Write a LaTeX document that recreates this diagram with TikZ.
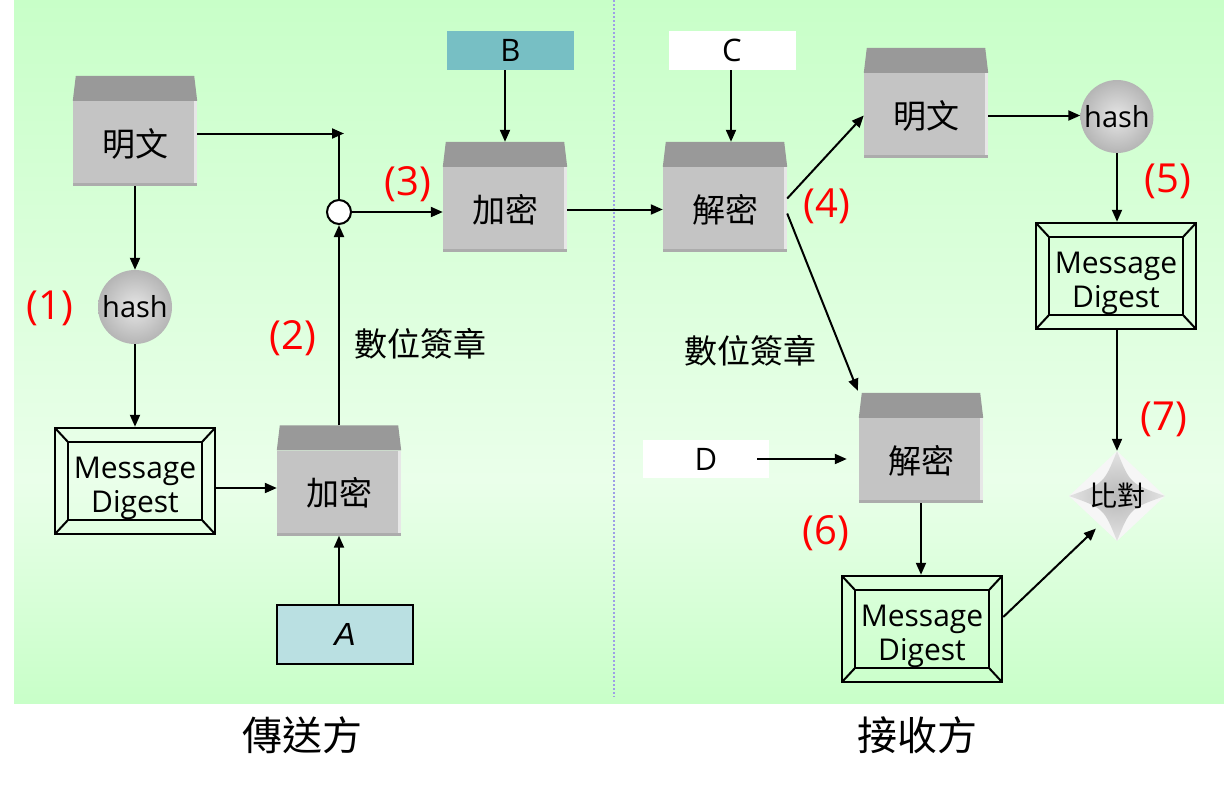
\documentclass[tikz,border=0pt]{standalone}
\usepackage{fontspec}
\setmainfont{Open Sans}
\newfontfamily\cjk{Noto Sans CJK TC}
\newfontfamily\libsans{Liberation Sans}
\usetikzlibrary{arrows.meta,shapes.geometric,calc}
\definecolor{bgA}{HTML}{C8FFC8}
\definecolor{bgB}{HTML}{EAFFEA}
\definecolor{boxfront}{HTML}{C4C4C4}
\definecolor{boxtop}{HTML}{999999}
\definecolor{keyB}{HTML}{77BFC4}
\definecolor{keyA}{HTML}{BAE0E2}
\definecolor{dotc}{HTML}{9E9EE6}
\newcommand\boxtopof[1]{\fill[boxtop] (#1.north west) -- ([xshift=3pt,yshift=25pt]#1.north west) -- ([xshift=-3pt,yshift=25pt]#1.north east) -- (#1.north east) -- cycle;}
\newcommand\mdtext{\raisebox{-13.5pt}[0pt][0pt]{\begin{tabular}{@{}c@{}}Message\\Digest\end{tabular}}}
\begin{document}
\begin{tikzpicture}[x=1pt,y=-1pt,
  arr/.style={line width=2pt,-{Triangle[length=12pt,width=10pt]}},
  ln/.style={line width=2pt},
  gbox/.style={minimum width=124pt,minimum height=85pt,inner sep=0pt,fill=boxfront,
    font=\cjk\fontsize{33}{36}\selectfont,
    path picture={
      \fill[boxfront!40!white] ([xshift=-3pt]path picture bounding box.north east) rectangle (path picture bounding box.south east);
      \fill[boxfront!88!black] (path picture bounding box.south west) rectangle ([yshift=3pt]path picture bounding box.south east);}},
  mdbox/.style={draw,line width=2.5pt,minimum width=160pt,minimum height=106pt,inner sep=0pt,
    font=\fontsize{30}{34}\selectfont,
    path picture={
      \coordinate (Q1) at ([xshift=13pt,yshift=-14pt]path picture bounding box.north west);
      \coordinate (Q2) at ([xshift=-13pt,yshift=-14pt]path picture bounding box.north east);
      \coordinate (Q3) at ([xshift=-13pt,yshift=14pt]path picture bounding box.south east);
      \coordinate (Q4) at ([xshift=13pt,yshift=14pt]path picture bounding box.south west);
      \draw[line width=2.5pt] (Q1) -- (Q2) -- (Q3) -- (Q4) -- cycle;
      \draw[line width=2pt] (Q1) -- (path picture bounding box.north west)
        (Q2) -- (path picture bounding box.north east)
        (Q3) -- (path picture bounding box.south east)
        (Q4) -- (path picture bounding box.south west);}},
  hashball/.style={circle,minimum size=74pt,inner sep=0pt,shading=radial,inner color=gray!20,outer color=gray!58,
    font=\fontsize{29}{30}\selectfont},
  keybox/.style={minimum width=127pt,minimum height=39pt,inner sep=0pt,font=\fontsize{31}{32}\selectfont},
  redlab/.style={text=red,font=\fontsize{40}{44}\selectfont},
  sig/.style={font=\cjk\fontsize{33}{36}\selectfont},
  side/.style={font=\cjk\fontsize{40}{44}\selectfont}
]
\useasboundingbox (0,0) rectangle (1224,785);
\fill[white] (0,0) rectangle (1224,785);
\shade[top color=bgA,bottom color=bgB] (14,0) rectangle (1224,480);
\shade[top color=bgB,bottom color=bgA] (14,480) rectangle (1224,703);
\draw[dotc,line width=2pt,dash pattern=on 2pt off 2pt] (614,0) -- (614,697);

% sender
\node[gbox] (pL) at (135,143.5) {明文};
\node[hashball] (hL) at (135,307) {hash};
\node[mdbox] (mdL) at (135,481) {\mdtext};
\node[gbox] (e2) at (339,493) {加密};
\node[keybox,draw,line width=2pt,fill=keyA,minimum width=136pt,minimum height=59pt,font=\libsans\itshape\fontsize{32}{34}\selectfont] (kA) at (345,634.5) {A};
\node[circle,draw,line width=2pt,fill=white,minimum size=24pt,inner sep=0pt] (cr) at (339,212) {};
\coordinate (j1) at (344,133.5);
\node[gbox] (e3) at (505,209.5) {加密};
\node[keybox,fill=keyB] (kB) at (510.5,50.5) {B};

% receiver
\node[keybox,fill=white] (kC) at (732,50.5) {C};
\node[gbox] (d4) at (725,209.5) {解密};
\node[gbox] (pR) at (926,115.5) {明文};
\node[hashball,minimum size=73pt] (hR) at (1117,116.5) {hash};
\node[mdbox] (mdR) at (1116,276) {\mdtext};
\node[diamond,minimum width=96pt,minimum height=90pt,inner sep=0pt,fill=gray!7,
  font=\cjk\fontsize{28}{30}\selectfont,
  path picture={
    \coordinate (Pc) at (path picture bounding box.center);
    \coordinate (Pn) at (path picture bounding box.north);
    \coordinate (Pe) at (path picture bounding box.east);
    \coordinate (Ps) at (path picture bounding box.south);
    \coordinate (Pw) at (path picture bounding box.west);
    \shade[inner color=gray!55,outer color=gray!22]
      (Pn) .. controls ($(Pc)!0.55!($(Pn)!0.5!(Pe)$)$) .. (Pe)
      .. controls ($(Pc)!0.55!($(Pe)!0.5!(Ps)$)$) .. (Ps)
      .. controls ($(Pc)!0.55!($(Ps)!0.5!(Pw)$)$) .. (Pw)
      .. controls ($(Pc)!0.55!($(Pw)!0.5!(Pn)$)$) .. (Pn) -- cycle;}] (cmp) at (1117,496) {比對};
\node[gbox] (d6) at (921,460.5) {解密};
\node[keybox,fill=white,minimum width=126pt,minimum height=38pt] (kD) at (706,459) {D};
\node[mdbox] (mdB) at (922,629) {\mdtext};

\foreach \n in {pL,e2,e3,d4,pR,d6} {\boxtopof{\n}}

% connectors sender
\draw[arr] ([yshift=10pt]pL.east) -- (j1);
\draw[ln] (cr.north) -- (cr.north |- j1);
\draw[arr] (cr.east) -- (cr.east -| e3.west);
\draw[arr] ([yshift=25pt]e2.north) -- (cr.south);
\draw[arr] (kA.north -| e2.south) -- (e2.south);
\draw[arr] ([yshift=-7pt]mdL.east) -- ([yshift=-7pt]mdL.east -| e2.west);
\draw[arr] (pL.south) -- (hL.north);
\draw[arr] (hL.south) -- (mdL.north);
\draw[arr] (kB.south -| e3.north) -- ([yshift=25pt]e3.north);
\draw[arr] (e3.east) -- (d4.west);

% connectors receiver
\coordinate (t4) at ([yshift=25pt]d4.north);
\draw[arr] ([xshift=-1pt]kC.south) -- ([xshift=-1pt]kC.south |- t4);
\draw[arr] ([yshift=11pt]d4.east) -- (pR.west);
\draw[arr] ([yshift=-4pt]d4.east) -- ([xshift=-1pt,yshift=27pt]d6.north west);
\draw[arr] (pR.east) -- (pR.east -| hR.west);
\draw[arr] (hR.south) -- (hR.south |- mdR.north);
\draw[arr] (mdR.south -| cmp.north) -- (cmp.north);
\draw[arr] ([yshift=12pt]mdB.east) -- ([xshift=3pt,yshift=-10pt]cmp.south west);
\draw[arr] ([xshift=-12pt]kD.east) -- ([xshift=-12pt]kD.east -| d6.west);
\draw[arr] (d6.south) -- (d6.south |- mdB.north);

% labels
\node[redlab] (l1) at (50,308) {(1)};
\node[redlab] (l2) at (293,338) {(2)};
\node[redlab] (l3) at (408,184) {(3)};
\node[redlab] (l4) at (827,206) {(4)};
\node[redlab] (l5) at (1168,181) {(5)};
\node[redlab] (l6) at (826,533) {(6)};
\node[redlab] (l7) at (1164,419) {(7)};
\node[sig] (s1) at (420,344) {數位簽章};
\node[sig] (s2) at (750,351) {數位簽章};
\node[side] (sd) at (302,735) {傳送方};
\node[side] (rc) at (917,735) {接收方};
\end{tikzpicture}
\end{document}
